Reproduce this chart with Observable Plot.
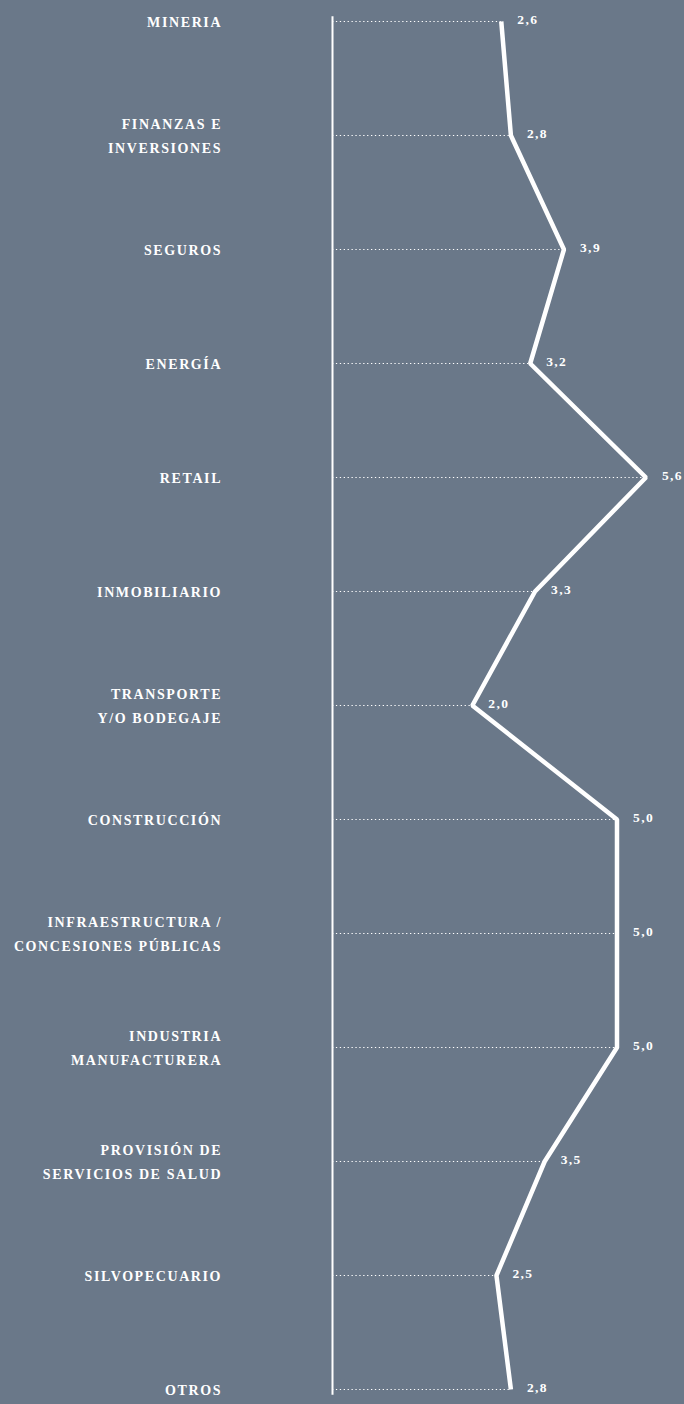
<!DOCTYPE html>
<html>
<head>
<meta charset="utf-8">
<script src="https://cdn.jsdelivr.net/npm/d3@7"></script>
<script src="https://cdn.jsdelivr.net/npm/@observablehq/plot@0.6"></script>
<style>
  html, body { margin: 0; padding: 0; background: #6a7889; }
  #chart svg { display: block; }
</style>
</head>
<body>
<div id="chart"></div>
<script>
const categories = [
  "MINERIA",
  "FINANZAS E\nINVERSIONES",
  "SEGUROS",
  "ENERGÍA",
  "RETAIL",
  "INMOBILIARIO",
  "TRANSPORTE\nY/O BODEGAJE",
  "CONSTRUCCIÓN",
  "INFRAESTRUCTURA /\nCONCESIONES PÚBLICAS",
  "INDUSTRIA\nMANUFACTURERA",
  "PROVISIÓN DE\nSERVICIOS DE SALUD",
  "SILVOPECUARIO",
  "OTROS"
];
const values = [2.6, 2.8, 3.9, 3.2, 5.6, 3.3, 2.0, 5.0, 5.0, 5.0, 3.5, 2.5, 2.8];

const data = categories.map((c, i) => ({cat: c, value: values[i]}));
const xDomain = [-0.9, 6.4];
const fmt = v => d3.format(".1f")(v).replace(".", ",");
const serif = "'Liberation Serif', 'DejaVu Serif', serif";

const chart = Plot.plot({
  width: 684,
  height: 1404,
  marginLeft: 332,
  marginRight: 0,
  marginTop: 16.7,
  marginBottom: 10.7,
  style: {background: "#6a7889", color: "white", fontFamily: serif},
  x: {domain: xDomain, axis: null},
  y: {type: "point", domain: categories, padding: 0, axis: null},
  marks: [
    Plot.ruleY(data, {
      y: "cat", x1: () => xDomain[0], x2: "value",
      stroke: "white", strokeWidth: 1, strokeDasharray: "1.3,2.6"
    }),
    Plot.frame({anchor: "left", stroke: "white", strokeWidth: 2}),
    Plot.line(data, {
      x: "value", y: "cat", stroke: "white", strokeWidth: 4.5,
      strokeLinejoin: "miter", strokeLinecap: "butt", curve: "linear"
    }),
    Plot.text(data, {
      y: "cat", text: "cat", frameAnchor: "left", dx: -110.4,
      textAnchor: "end", lineAnchor: "middle", lineHeight: 1.74,
      fontSize: 14, fontWeight: "bold", fontFamily: serif,
      fill: "white", dy: -2.5
    }),
    Plot.text(data, {
      x: "value", y: "cat", text: d => fmt(d.value),
      dx: 16, dy: -1.5, textAnchor: "start", fontSize: 13.5,
      fontWeight: "bold", fontFamily: serif,
      fill: "white"
    })
  ]
});
const textGroups = d3.select(chart).selectAll("g[aria-label='text']").nodes();
d3.select(textGroups[0]).style("letter-spacing", "1.6px");
d3.select(textGroups[1]).style("letter-spacing", "1.4px");
document.getElementById("chart").appendChild(chart);
</script>
</body>
</html>
